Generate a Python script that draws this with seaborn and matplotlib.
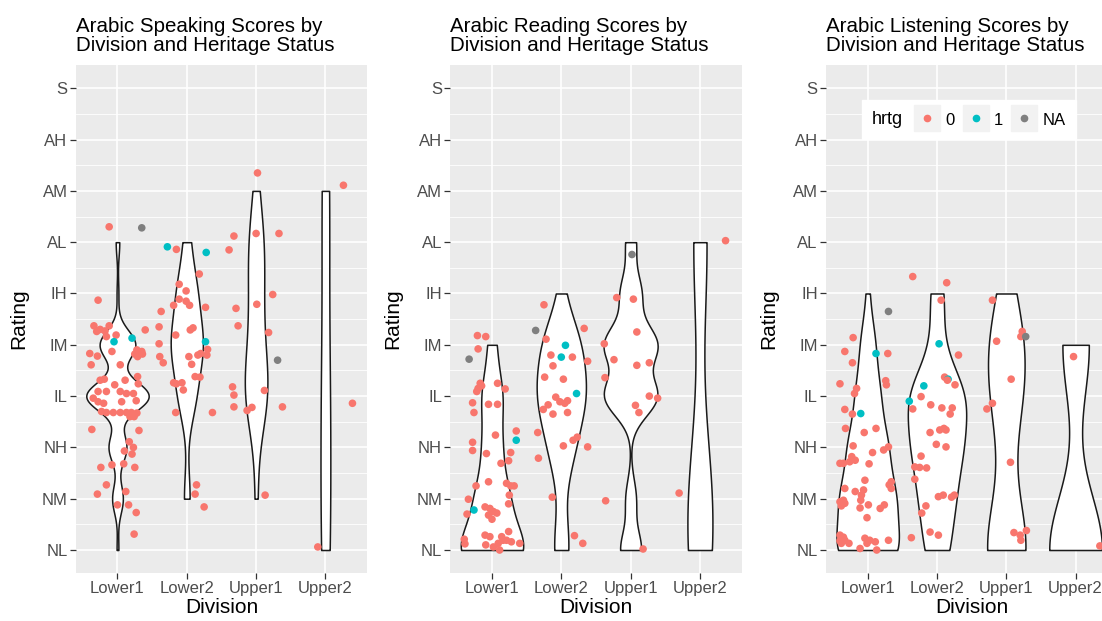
import numpy as np
import pandas as pd
import matplotlib
matplotlib.use("Agg")
import matplotlib.pyplot as plt
import seaborn as sns
from matplotlib.lines import Line2D
from matplotlib.legend_handler import HandlerTuple
from matplotlib.offsetbox import HPacker

plt.rcParams["font.family"] = ["Liberation Sans", "DejaVu Sans"]

levels = ["NL", "NM", "NH", "IL", "IM", "IH", "AL", "AM", "AH", "S"]
divisions = ["Lower1", "Lower2", "Upper1", "Upper2"]
hrtg_colors = {"0": "#F8766D", "1": "#00BFC4", "NA": "#7F7F7F"}
titles = ["Arabic Speaking Scores by\nDivision and Heritage Status",
          "Arabic Reading Scores by\nDivision and Heritage Status",
          "Arabic Listening Scores by\nDivision and Heritage Status"]

# jittered points (x: division index + jitter, y: rating + jitter)
# hrtg codes: 0, 1, N = NA
speak_x = [-0.12, 0.35, -0.28, -0.34, -0.30, -0.25, -0.18, -0.12, -0.16, -0.02,
           -0.05, 0.21, 0.40, -0.40, -0.29, -0.08, 0.28, 0.35, 0.29, 0.36,
           0.25, -0.38, 0.04, -0.25, -0.19, -0.04, 0.11, 0.29, 0.30, -0.28,
           -0.16, 0.04, 0.13, 0.23, -0.35, -0.28, -0.20, 0.06, 0.27, -0.23,
           -0.16, -0.06, 0.04, 0.13, 0.20, 0.28, 0.18, 0.24, -0.37, 0.31,
           0.17, 0.23, 0.10, 0.21, -0.24, -0.08, 0.09, 0.25, -0.16, -0.29,
           0.12, 0.00, 0.16, 0.27, 0.24,
           0.72, 0.85, 1.28, 1.18, 0.89, 0.99, 0.89, 0.81, 0.99, 1.04,
           1.27, 0.63, 0.60, 0.84, 1.05, 1.09, 0.60, 1.27, 1.30, 1.29,
           1.20, 1.16, 1.03, 0.61, 0.66, 1.07, 1.12, 1.19, 0.81, 0.85,
           0.93, 0.95, 0.84, 1.37, 1.14, 1.12, 1.25,
           2.02, 2.00, 2.33, 1.68, 1.61, 2.24, 2.01, 1.71, 1.74, 2.18,
           2.31, 1.66, 1.68, 2.12, 1.68, 1.87, 1.94, 2.38, 2.13,
           3.26, 3.39, 2.89]
speak_y = [6.30, 6.28, 4.87, 4.37, 4.26, 4.30, 4.27, 4.37, 4.16, 4.19,
           4.06, 4.13, 4.29, 3.83, 3.78, 3.87, 3.90, 3.87, 3.77, 3.82,
           3.82, 3.61, 3.61, 3.31, 3.33, 3.22, 3.31, 3.38, 3.24, 3.09,
           3.09, 3.09, 3.05, 3.05, 2.96, 2.89, 2.86, 2.89, 2.91, 2.70,
           2.68, 2.68, 2.68, 2.68, 2.68, 2.67, 2.60, 2.60, 2.35, 2.33,
           2.11, 2.00, 1.93, 1.87, 1.61, 1.66, 1.68, 1.61, 1.27, 1.09,
           1.14, 0.88, 0.88, 0.73, 0.31,
           5.91, 5.86, 5.80, 5.38, 5.18, 5.05, 4.89, 4.77, 4.85, 4.77,
           4.73, 4.65, 4.35, 4.19, 4.29, 4.33, 4.02, 4.06, 3.91, 3.80,
           3.83, 3.80, 3.77, 3.77, 3.65, 3.62, 3.38, 3.37, 3.26, 3.24,
           3.26, 3.12, 2.68, 2.68, 1.27, 1.09, 0.84,
           7.35, 6.17, 6.17, 6.12, 5.85, 4.98, 4.79, 4.71, 4.37, 4.24,
           3.70, 3.18, 3.02, 3.11, 2.79, 2.72, 2.78, 2.79, 1.07,
           7.11, 2.86, 0.06]
speak_h = ("0N00000000" "1100000000" "0000000000" "0000000000" "0000000000"
           "0000000000" "00000"
           "1010000000" "0000000100" "0000000000" "0000000"
           "0000000000" "N00000000"
           "000")

read_x = [-0.21, -0.09, -0.20, -0.33, -0.17, -0.15, -0.20, -0.22, 0.08, 0.19,
          -0.28, -0.26, -0.05, 0.08, 0.35, 0.35, 0.05, -0.28, -0.28, 0.27,
          0.24, 0.13, -0.08, -0.05, -0.23, 0.21, 0.27, 0.32, 0.25, 0.24,
          -0.34, -0.36, -0.26, -0.10, -0.03, 0.02, -0.05, 0.07, 0.00, -0.40,
          -0.39, -0.10, -0.03, -0.09, 0.02, 0.09, 0.14, 0.24, 0.16, 0.28,
          0.11, 0.21, 0.40,
          0.75, 0.63, 1.33, 0.78, 1.06, 1.00, 0.85, 1.16, 1.38, 0.88,
          0.76, 1.03, 1.22, 0.92, 0.98, 1.09, 0.81, 0.74, 0.88, 1.09,
          1.05, 0.66, 1.17, 1.23, 1.03, 1.38, 0.67, 0.87, 1.19, 1.31,
          2.02, 1.80, 2.04, 2.09, 1.62, 1.76, 2.09, 2.27, 1.63, 2.27,
          2.39, 2.07, 2.12, 1.64, 2.18,
          3.37, 2.70]
read_y = [4.18, 4.16, 3.92, 3.72, 3.25, 3.20, 3.15, 3.09, 3.25, 3.14,
          2.87, 2.68, 2.84, 2.84, 2.32, 2.14, 2.24, 2.10, 1.94, 1.90,
          1.74, 1.69, 1.88, 1.33, 1.25, 1.30, 1.25, 1.25, 1.07, 0.90,
          0.99, 0.70, 0.78, 0.84, 0.81, 0.75, 0.68, 0.72, 0.60, 0.21,
          0.12, 0.29, 0.26, 0.10, 0.06, 0.13, 0.26, 0.36, 0.19, 0.16,
          0.00, 0.19, 0.13,
          4.78, 4.28, 4.32, 4.11, 3.99, 3.76, 3.80, 3.76, 3.68, 3.59,
          3.37, 3.33, 3.05, 2.98, 2.89, 2.91, 2.83, 2.74, 2.65, 2.68,
          2.86, 2.29, 2.14, 2.20, 2.03, 2.01, 1.79, 1.03, 0.28, 0.13,
          5.76, 4.92, 4.89, 4.25, 4.02, 3.71, 3.60, 3.65, 3.36, 3.00,
          2.96, 2.82, 2.68, 0.96, 0.02,
          6.03, 1.11]
read_h = ("000N000000" "0000010000" "0000000000" "0010000000" "0000000000" "000"
          "0N00110000" "0010000000" "0000000000"
          "N00000000000000"
          "00")

listen_x = [0.30, -0.21, -0.33, 0.12, 0.29, -0.22, -0.40, -0.16, -0.19, 0.26,
            0.27, -0.33, -0.22, -0.10, -0.32, -0.05, 0.12, -0.21, -0.40, -0.35,
            -0.26, -0.18, -0.23, 0.07, 0.23, 0.30, 0.02, -0.04, 0.34, 0.34,
            0.31, -0.33, -0.18, -0.06, -0.09, -0.40, -0.38, -0.33, -0.35, -0.10,
            0.01, -0.11, 0.18, 0.24, -0.01, -0.40, -0.35, -0.40, -0.38, -0.27,
            -0.33, -0.04, 0.03, 0.11, -0.01, 0.30, -0.11, 0.13,
            0.65, 1.14, 1.06, 1.03, 1.31, 1.11, 1.16, 1.15, 1.26, 0.81,
            0.60, 0.77, 0.65, 0.91, 1.07, 1.22, 1.19, 0.90, 1.04, 1.10,
            1.13, 0.99, 1.13, 0.77, 0.68, 0.75, 0.85, 0.68, 1.02, 1.09,
            1.21, 1.25, 0.84, 0.78, 0.90, 1.02, 0.63,
            1.80, 2.23, 2.21, 2.28, 1.86, 2.07, 1.80, 1.72, 2.06, 2.11,
            2.20, 2.29, 2.21,
            2.97, 3.35]
listen_y = [4.65, 4.14, 3.87, 3.83, 3.83, 3.65, 3.24, 3.15, 3.05, 3.30,
            3.22, 2.74, 2.65, 2.66, 2.37, 2.29, 2.37, 2.03, 1.69, 1.69,
            1.72, 1.75, 1.82, 1.90, 1.95, 2.01, 1.68, 1.36, 1.33, 1.20,
            1.27, 1.20, 1.14, 1.17, 1.07, 0.94, 0.86, 0.91, 0.97, 0.97,
            0.88, 0.82, 0.81, 0.88, 0.63, 0.29, 0.25, 0.18, 0.13, 0.13,
            0.19, 0.23, 0.19, 0.16, 0.13, 0.19, 0.03, 0.00,
            5.33, 5.21, 4.87, 4.02, 3.80, 3.37, 3.33, 3.31, 3.22, 3.20,
            2.90, 2.99, 2.75, 2.83, 2.77, 2.77, 2.65, 2.29, 2.34, 2.37,
            2.34, 2.06, 2.01, 1.83, 1.62, 1.61, 1.60, 1.38, 1.04, 1.07,
            1.03, 1.07, 0.86, 0.72, 0.35, 0.29, 0.24,
            4.87, 4.26, 4.16, 4.16, 4.07, 3.33, 2.86, 2.75, 1.71, 0.34,
            0.29, 0.38, 0.19,
            3.77, 0.08]
listen_h = ("N001000000" "0001000000" "0000000000" "0000000000" "0000000000" "00000000"
            "0001001001" "1000000000" "0000000000" "0000000"
            "000N000000000"
            "00")

# scores that are in the violins but have no visible point:
# (division index, rating, count) -- NL points jittered below the axis limit,
# and points hidden under the dense IL cluster of the speaking panel
speak_unseen = [(0, 3, 10)]
read_unseen = [(0, 0, 18), (1, 0, 2), (2, 0, 1), (3, 0, 1)]
listen_unseen = [(0, 0, 8), (1, 0, 2), (2, 0, 3), (3, 0, 1)]


def nrd0(kde):
    # R's default bandwidth (bw.nrd0), as a factor of the sample sd
    x = kde.dataset.ravel()
    sd = x.std(ddof=1)
    q75, q25 = np.percentile(x, [75, 25])
    lo = min(sd, (q75 - q25) / 1.34)
    if lo <= 0:
        lo = sd if sd > 0 else 1.0
    return 0.9 * lo * len(x) ** -0.2 / sd


def make_frames(xs, ys, hs, unseen):
    pts = pd.DataFrame({"x": xs, "y": ys,
                        "hrtg": ["NA" if c == "N" else c for c in hs]})
    vio = pd.DataFrame({"pos": np.round(pts["x"]).astype(int),
                        "rating": np.round(pts["y"]).astype(int)})
    extra = pd.DataFrame([(d, r) for d, r, n in unseen for _ in range(n)],
                         columns=["pos", "rating"])
    vio = pd.concat([vio, extra], ignore_index=True)
    return pts, vio


panels = [(speak_x, speak_y, speak_h, speak_unseen),
          (read_x, read_y, read_h, read_unseen),
          (listen_x, listen_y, listen_h, listen_unseen)]

fig = plt.figure(figsize=(11.02, 6.21), dpi=100)
lefts = [75.9, 450.4, 826.1]
axes = [fig.add_axes([l / 1102, 47.9 / 621, 291.1 / 1102, 507.9 / 621]) for l in lefts]

for ax, (xs, ys, hs, unseen), title in zip(axes, panels, titles):
    pts, vio = make_frames(xs, ys, hs, unseen)
    ax.set_facecolor("#EBEBEB")
    sns.violinplot(data=vio, x="pos", y="rating", native_scale=True, orient="x",
                   cut=0, width=0.9, inner=None, density_norm="area",
                   bw_method=nrd0, gridsize=400, color="white", saturation=1,
                   linecolor="#1A1A1A", linewidth=1.1, ax=ax)
    sns.scatterplot(data=pts, x="x", y="y", hue="hrtg", palette=hrtg_colors,
                    s=30, linewidth=0, legend=False, zorder=3, ax=ax)

    ax.set_xlim(-0.6, 3.6)
    ax.set_ylim(-0.45, 9.45)
    ax.set_xticks(range(4))
    ax.set_xticklabels(divisions)
    ax.set_yticks(range(10))
    ax.set_yticklabels(levels)
    ax.set_yticks(np.arange(0.5, 9, 1), minor=True)
    ax.set_xticks([], minor=True)
    ax.grid(which="major", color="white", linewidth=1.2)
    ax.grid(which="minor", axis="y", color="white", linewidth=0.6)
    ax.set_axisbelow(True)
    for s in ax.spines.values():
        s.set_visible(False)
    ax.tick_params(which="major", length=4, width=0.9, color="#333333",
                   labelcolor="#4D4D4D", labelsize=12, pad=2)
    ax.tick_params(which="minor", length=0)
    ax.set_xlabel("Division", fontsize=15)
    ax.set_ylabel("Rating", fontsize=15)
    ax.xaxis.set_label_coords(0.5, -0.05)
    ax.yaxis.set_label_coords(-0.165, 0.5)
    ax.annotate(title, xy=(0, 1), xycoords="axes fraction", xytext=(0, 7),
                textcoords="offset points", ha="left", va="bottom",
                fontsize=14.8, linespacing=1.02)

# legend inside the third panel, title on the left as in ggplot
ax3 = axes[2]
handles = [(Line2D([], [], ls="", marker="s", ms=19, color="#F2F2F2"),
            Line2D([], [], ls="", marker="o", ms=4.5, color=hrtg_colors[k]))
           for k in ["0", "1", "NA"]]
leg = ax3.legend(handles, ["0", "1", "NA"], title="hrtg", ncol=3,
                 handler_map={tuple: HandlerTuple(ndivide=1)},
                 loc="center", bbox_to_anchor=(0.49, 0.893),
                 frameon=True, fancybox=False, edgecolor="white",
                 facecolor="white", framealpha=1, fontsize=12,
                 title_fontsize=13, handlelength=1.6, handleheight=1.3,
                 handletextpad=0.3, columnspacing=0.45, borderpad=0.6)
box = leg._legend_box
title_box, handle_box = box.get_children()
new_box = HPacker(pad=box.pad, sep=8, align="center",
                  children=[title_box, handle_box])
new_box.set_figure(fig)
new_box.axes = ax3
new_box.set_offset(leg._findoffset)
leg._legend_box = new_box

fig.savefig("out.png", dpi=100)
